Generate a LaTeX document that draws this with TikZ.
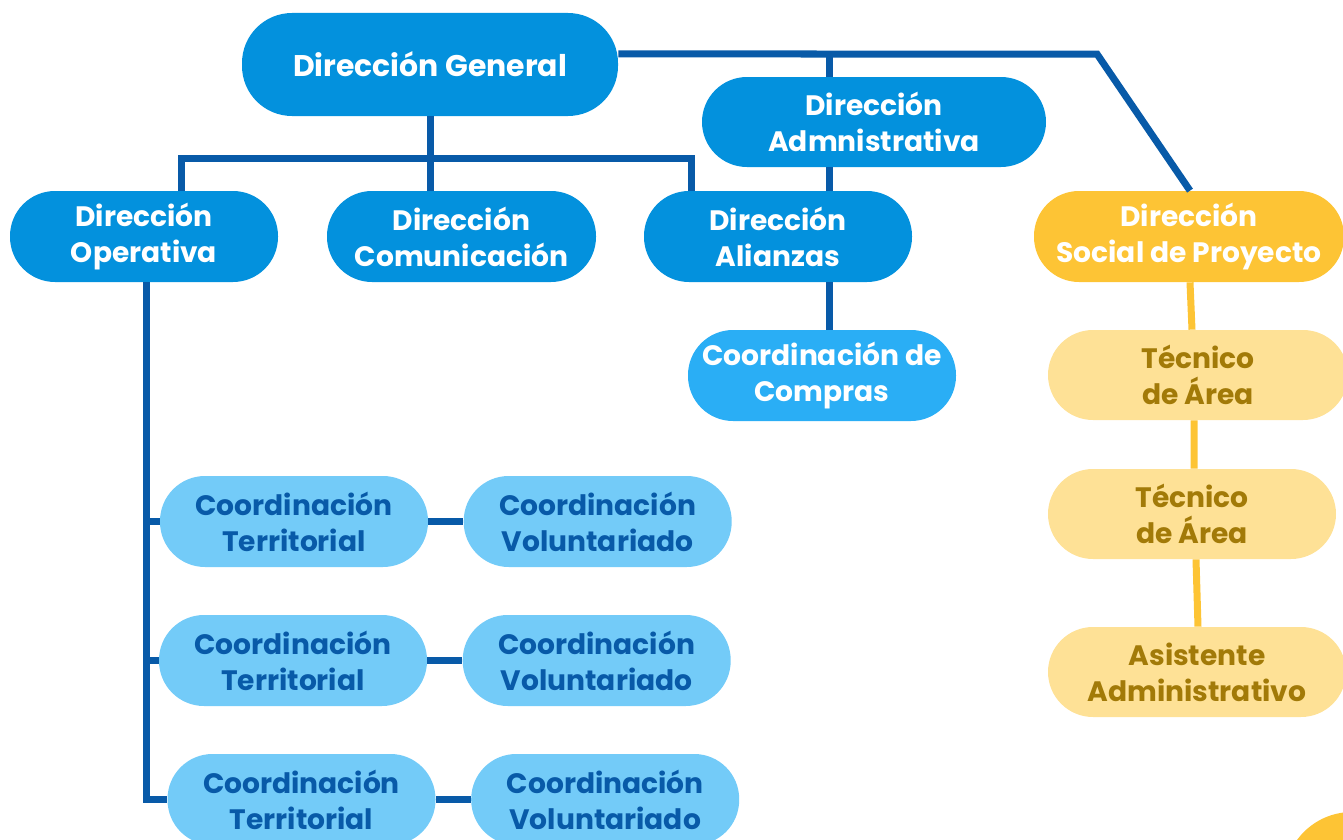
\documentclass[tikz,border=0pt]{standalone}
\usepackage{fontspec}
\setmainfont{Poppins}
\usetikzlibrary{positioning,calc}

\definecolor{dirblue}{RGB}{3,145,221}
\definecolor{linkblue}{RGB}{8,90,168}
\definecolor{compblue}{RGB}{42,174,245}
\definecolor{lightblue}{RGB}{115,203,248}
\definecolor{gold}{RGB}{253,196,53}
\definecolor{paleyellow}{RGB}{254,225,150}
\definecolor{goldtext}{RGB}{162,122,8}

\begin{document}
\begin{tikzpicture}[
    box/.style={rounded corners=0.9cm, minimum width=5.36cm, minimum height=1.82cm, align=center, inner sep=0pt, font=\fontsize{16}{20.4}\selectfont\bfseries},
    direction/.style={box, fill=dirblue, text=white},
    general/.style={direction, minimum width=7.52cm, minimum height=2.06cm, rounded corners=1cm, font=\fontsize{17}{20.4}\selectfont\bfseries},
    social/.style={box, fill=gold, text=white, minimum width=6.2cm},
    compras/.style={box, fill=compblue, text=white},
    coordination/.style={box, fill=lightblue, text=linkblue},
    technical/.style={box, fill=paleyellow, text=goldtext, minimum height=1.8cm},
    link/.style={draw=linkblue, line width=0.14cm},
    goldlink/.style={draw=gold, line width=0.14cm}
]

\useasboundingbox (0,0) rectangle (26.86,-16.8);

% Top level
\node[general] (gen) at (8.60,-1.29) {Dirección General};
\node[direction, minimum width=6.88cm, minimum height=1.8cm] (adm) at (17.48,-2.44) {Dirección\\Admnistrativa};

% Directions
\node[direction] (ope) at (2.88,-4.73) {Dirección\\Operativa};
\node[direction, minimum width=5.38cm] (com) at (9.23,-4.73) {Dirección\\Comunicación};
\node[direction] (ali) at (15.56,-4.73) {Dirección\\Alianzas};
\node[social] (soc) at (23.78,-4.73) {Dirección\\Social de Proyecto};

% Below Alianzas
\node[compras] (comp) at (16.44,-7.51) {Coordinación de\\Compras};

% Social project team
\node[technical, minimum width=6.0cm] (tec1) at (23.96,-7.50) {Técnico\\de Área};
\node[technical, minimum width=5.76cm] (tec2) at (23.84,-10.28) {Técnico\\de Área};
\node[technical, minimum width=5.96cm] (asi) at (23.94,-13.44) {Asistente\\Administrativo};

% Territorial coordinations
\node[coordination] (ter1) at (5.88,-10.43) {Coordinación\\Territorial};
\node[coordination] (ter2) at (5.86,-13.21) {Coordinación\\Territorial};
\node[coordination] (ter3) at (6.03,-15.99) {Coordinación\\Territorial};

% Volunteer coordinations
\node[coordination, right=0.7cm of ter1] (vol1) {Coordinación\\Voluntariado};
\node[coordination, right=0.7cm of ter2] (vol2) {Coordinación\\Voluntariado};
\node[coordination, right=0.7cm of ter3] (vol3) {Coordinación\\Voluntariado};

% Corner decoration
\fill[gold] (27.04,-17.6) circle (1.36);

% Connections from Dirección General
\coordinate (split) at (8.60,-3.16);
\coordinate (bend) at (21.94,-1.08);
\draw[link] (gen.south) -- (split);
\draw[link] (split) -| ([xshift=0.74cm]ope.north);
\draw[link] (split) -| ([xshift=-1.74cm]ali.north);
\draw[link] (split) -- (split |- com.north);
\draw[link] ([yshift=0.21cm]gen.east) -- (bend) -- ([xshift=0.02cm]soc.north);
\draw[link] ([xshift=-0.9cm]adm.north) -- ([xshift=-0.9cm]adm.north |- bend);

% Administrativa -> Alianzas -> Compras
\draw[link] ([xshift=-0.9cm]adm.south) -- ([xshift=-0.9cm]adm.south |- ali.north);
\draw[link] ([xshift=1.02cm]ali.south) -- ([xshift=1.02cm]ali.south |- comp.north);

% Operativa trunk
\draw[link] ([xshift=0.05cm]ope.south) |- (ter3.west);
\draw[link] ([xshift=0.05cm]ope.south |- ter1.west) -- (ter1.west);
\draw[link] ([xshift=0.05cm]ope.south |- ter2.west) -- (ter2.west);

% Territorial -> Voluntariado
\draw[link] (ter1) -- (vol1);
\draw[link] (ter2) -- (vol2);
\draw[link] (ter3) -- (vol3);

% Social project chain
\draw[goldlink] ([xshift=0.02cm]soc.south) -- ([xshift=-0.12cm]tec1.north);
\draw[goldlink] ([xshift=-0.08cm]tec1.south) -- ([xshift=0.04cm]tec2.north);
\draw[goldlink] ([xshift=0.08cm]tec2.south) -- ([xshift=0.02cm]asi.north);

\end{tikzpicture}
\end{document}
